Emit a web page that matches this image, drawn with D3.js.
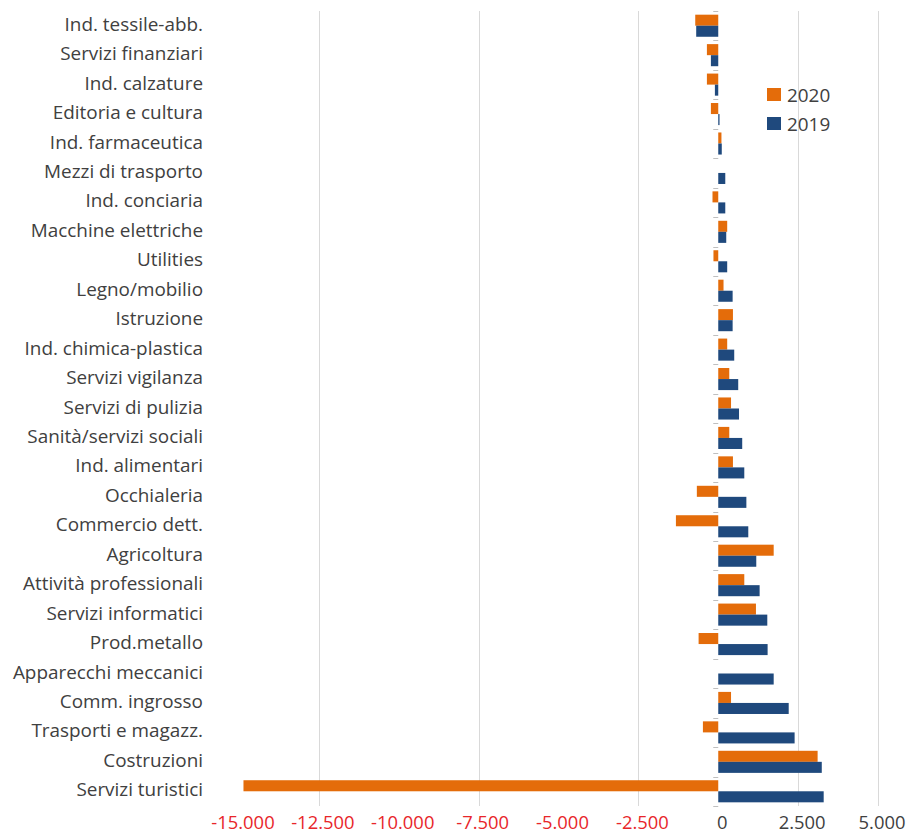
<!DOCTYPE html>
<html>
<head>
<meta charset="utf-8">
<script src="https://cdn.jsdelivr.net/npm/d3@7"></script>
<style>
  html, body { margin: 0; padding: 0; background: #fff; }
  svg { display: block; }
  text { font-family: "Open Sans", Lato, sans-serif; }
</style>
</head>
<body>
<svg id="chart" width="911" height="836"></svg>
<script>
const categories = [
  "Ind. tessile-abb.", "Servizi finanziari", "Ind. calzature", "Editoria e cultura",
  "Ind. farmaceutica", "Mezzi di trasporto", "Ind. conciaria", "Macchine elettriche",
  "Utilities", "Legno/mobilio", "Istruzione", "Ind. chimica-plastica",
  "Servizi vigilanza", "Servizi di pulizia", "Sanità/servizi sociali", "Ind. alimentari",
  "Occhialeria", "Commercio dett.", "Agricoltura", "Attività professionali",
  "Servizi informatici", "Prod.metallo", "Apparecchi meccanici", "Comm. ingrosso",
  "Trasporti e magazz.", "Costruzioni", "Servizi turistici"
];
const values2020 = [
  -720, -355, -355, -230,
  100, 0, -180, 280,
  -150, 165, 460, 280,
  345, 400, 345, 460,
  -670, -1325, 1735, 815,
  1180, -615, 0, 400,
  -480, 3110, -14860
];
const values2019 = [
  -690, -230, -105, 40,
  110, 220, 220, 250,
  280, 450, 450, 500,
  625, 650, 750, 815,
  880, 940, 1190, 1295,
  1535, 1545, 1735, 2205,
  2390, 3240, 3300
];
const seriesNames = ["2020", "2019"];
const xTicks = [-15000, -12500, -10000, -7500, -5000, -2500, 0, 2500, 5000];
// gridlines that show in the reference picture
const gridTicks = [-12500, -7500, -2500, 2500, 5000];

const colors = { "2020": "#E46C0A", "2019": "#1F497D" };

const svg = d3.select("#chart");
const x = d3.scaleLinear().domain([-15000, 5000]).range([239, 878]);
const y = d3.scaleBand().domain(categories).range([11, 806]).paddingInner(0.25).paddingOuter(0.125);
const ySub = d3.scaleBand().domain(seriesNames).range([0, y.bandwidth()]);

const fmt = v => d3.format(",")(v).replace(/,/g, ".").replace("−", "-");

// gridlines
svg.append("g").selectAll("line").data(gridTicks).join("line")
  .attr("x1", d => Math.round(x(d)) + 0.5).attr("x2", d => Math.round(x(d)) + 0.5)
  .attr("y1", 11).attr("y2", 806)
  .attr("stroke", "#d9d9d9").attr("stroke-width", 1);

// category tick marks at band boundaries, left of zero
const bounds = categories.map(c => y(c) - y.step() * y.paddingInner() / 2).concat([806]);
svg.append("g").selectAll("line").data(bounds).join("line")
  .attr("x1", x(0) - 5).attr("x2", x(0))
  .attr("y1", d => Math.round(d) + 0.5).attr("y2", d => Math.round(d) + 0.5)
  .attr("stroke", "#bfbfbf").attr("stroke-width", 1);

// bars
const data = categories.map((c, i) => ({ c, "2020": values2020[i], "2019": values2019[i] }));
const g = svg.append("g");
seriesNames.forEach(s => {
  g.selectAll("rect.s" + s).data(data).join("rect")
    .attr("class", "s" + s)
    .attr("x", d => x(Math.min(0, d[s])))
    .attr("width", d => Math.abs(x(d[s]) - x(0)))
    .attr("y", d => y(d.c) + ySub(s))
    .attr("height", ySub.bandwidth())
    .attr("fill", colors[s]);
});

// category labels
const labels = svg.append("g").selectAll("text").data(categories).join("text")
  .attr("x", 203)
  .attr("y", d => y(d) + y.bandwidth() / 2 - 2)
  .attr("text-anchor", "end")
  .attr("dominant-baseline", "central")
  .attr("font-size", 16)
  .attr("fill", "#404040")
  .text(d => d);
// fit font so widest label ("Attività professionali") is ~180px as in the reference
const widest = labels.filter(d => d === "Attività professionali").node().getComputedTextLength();
const fs = 16 * 180 / widest;
labels.attr("font-size", fs);

// x axis labels
svg.append("g").selectAll("text").data(xTicks).join("text")
  .attr("x", d => x(d) + 4)
  .attr("y", 821)
  .attr("text-anchor", "middle")
  .attr("dominant-baseline", "central")
  .attr("font-size", fs - 0.5)
  .attr("fill", d => d < 0 ? "#E8262A" : "#404040")
  .text(d => fmt(d));

// legend
const legend = svg.append("g");
seriesNames.forEach((s, i) => {
  legend.append("rect").attr("x", 767).attr("y", 88 + i * 29).attr("width", 14).attr("height", 13).attr("fill", colors[s]);
  legend.append("text").attr("x", 787).attr("y", 95 + i * 29).attr("dominant-baseline", "central")
    .attr("font-size", fs).attr("fill", "#404040").text(s);
});
</script>
</body>
</html>
